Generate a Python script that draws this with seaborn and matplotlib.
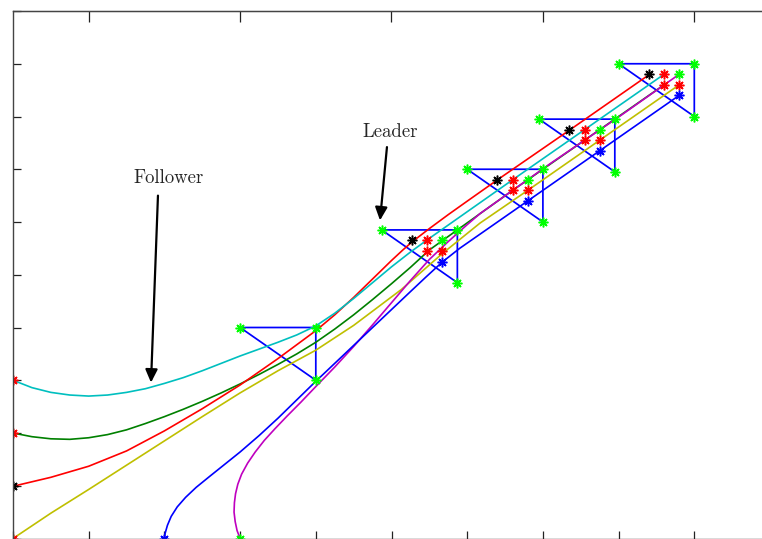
import numpy as np
import pandas as pd
import matplotlib
matplotlib.use("Agg")
import matplotlib.pyplot as plt
import seaborn as sns

# ---------------- data (axis units, one tick = 1) ----------------
red_x = [0.0, 0.5, 1.0, 1.5, 2.0, 2.5, 3.0, 3.5, 4.0, 4.25, 4.5, 4.75, 5.0, 5.15, 5.27, 5.4, 5.5, 5.75, 6.0, 6.4, 7.36, 8.4]
red_y = [0.99, 1.16, 1.37, 1.66, 2.04, 2.46, 2.91, 3.41, 3.94, 4.24, 4.57, 4.92, 5.27, 5.47, 5.62, 5.765, 5.875, 6.14, 6.395, 6.80, 7.75, 8.79]

cyan_x = [0.0, 0.25, 0.5, 0.75, 1.0, 1.25, 1.5, 1.75, 2.0, 2.25, 2.5, 2.75, 3.0, 3.25, 3.5, 3.75, 4.0,
          4.25, 4.5, 4.75, 5.0, 5.25, 5.47, 6.6, 7.55, 8.6]
cyan_y = [3.0, 2.86, 2.77, 2.72, 2.70, 2.72, 2.77, 2.84, 2.94, 3.05, 3.18, 3.32, 3.46, 3.59, 3.72, 3.86, 4.03,
          4.27, 4.55, 4.85, 5.15, 5.43, 5.66, 6.80, 7.75, 8.80]

green_x = [0.0, 0.25, 0.5, 0.75, 1.0, 1.25, 1.5, 1.75, 2.0, 2.25, 2.5, 2.75, 3.0, 3.25, 3.5, 3.75, 4.0,
           4.25, 4.5, 4.75, 5.0, 5.25, 5.5, 5.87, 6.6, 7.55, 8.6]
green_y = [2.0, 1.93, 1.89, 1.88, 1.91, 1.97, 2.06, 2.18, 2.31, 2.45, 2.60, 2.76, 2.93, 3.11, 3.30, 3.50, 3.72,
           3.97, 4.24, 4.53, 4.83, 5.14, 5.47, 5.85, 6.60, 7.55, 8.60]

yel_x = [0.0, 0.5, 1.0, 1.5, 2.0, 2.5, 3.0, 3.5, 4.0, 4.5, 5.13, 5.67, 6.17, 6.8, 7.75, 8.8]
yel_y = [0.0, 0.48, 0.93, 1.39, 1.85, 2.31, 2.76, 3.18, 3.57, 4.04, 4.72, 5.40, 5.98, 6.60, 7.55, 8.60]

blue_x = [2.0, 2.01, 2.04, 2.09, 2.17, 2.28, 2.42, 2.6, 2.8, 3.0, 3.25, 3.5, 3.75, 4.0, 4.25, 4.5, 4.75,
          5.0, 5.25, 5.45, 5.67, 5.9, 6.8, 7.75, 8.8]
blue_y = [0.0, 0.10, 0.25, 0.42, 0.60, 0.78, 0.97, 1.18, 1.41, 1.64, 1.95, 2.28, 2.63, 2.98, 3.32, 3.66, 4.00,
          4.34, 4.68, 4.95, 5.24, 5.50, 6.40, 7.35, 8.40]

mag_x = [3.0, 2.96, 2.935, 2.92, 2.925, 2.94, 2.97, 3.02, 3.1, 3.2, 3.32, 3.46, 3.62, 3.8, 4.0, 4.25, 4.5,
         4.75, 5.0, 5.25, 5.5, 5.75, 6.0, 6.17, 7.09, 8.02, 8.8]
mag_y = [0.0, 0.15, 0.32, 0.50, 0.68, 0.85, 1.03, 1.22, 1.43, 1.64, 1.86, 2.08, 2.32, 2.58, 2.88, 3.25, 3.64,
         4.05, 4.47, 4.89, 5.29, 5.63, 5.95, 6.16, 7.10, 8.01, 8.80]

agents = ["red", "cyan", "green", "yellow", "blue", "magenta"]
line_colors = {"red": "#ff0000", "cyan": "#00bfbf", "green": "#008000",
               "yellow": "#bfbf00", "blue": "#0000ff", "magenta": "#bf00bf"}
agent_marker_colors = {"red": "black", "cyan": "#ff0000", "green": "#ff0000",
                       "yellow": "#ff0000", "blue": "#0000ff", "magenta": "#00ff00"}
trajectories = {"red": (red_x, red_y), "cyan": (cyan_x, cyan_y), "green": (green_x, green_y),
                "yellow": (yel_x, yel_y), "blue": (blue_x, blue_y), "magenta": (mag_x, mag_y)}

# formation (leader) positions and triangle shape
form_x = [3.0, 4.87, 6.0, 6.95, 8.0]
form_y = [4.0, 5.85, 7.0, 7.95, 9.0]
tri_dx = [0, 1, 1, 0]
tri_dy = [0, 0, -1, 0]
# agents inside formations (shown for formations 2..5)
slot_dx = [0.4, 0.6, 0.8, 0.6, 0.8, 0.8]
slot_dy = [-0.2, -0.2, -0.2, -0.4, -0.4, -0.6]
slot_colors = ["black", "#ff0000", "#00ff00", "#ff0000", "#ff0000", "#0000ff"]

# ---------------- figure ----------------
sns.set_style("white")
fig = plt.figure(figsize=(7.62, 5.39), dpi=100)
ax = fig.add_axes([13 / 762, 0.5 / 539, 757 / 762, 527.5 / 539])

star = (8, 2, 0)

# formation triangles
tri_rows = []
for k, (fx, fy) in enumerate(zip(form_x, form_y)):
    for i, (dx, dy) in enumerate(zip(tri_dx, tri_dy)):
        tri_rows.append({"form": k, "order": i, "x": fx + dx, "y": fy + dy})
tri_df = pd.DataFrame(tri_rows)
sns.lineplot(data=tri_df, x="x", y="y", units="form", estimator=None, sort=False,
             color="#0000ff", lw=1.25, ax=ax, legend=False)

# trajectories
rows = []
for a in agents:
    xs, ys = trajectories[a]
    for i, (x, y) in enumerate(zip(xs, ys)):
        rows.append({"agent": a, "order": i, "x": x, "y": y})
traj_df = pd.DataFrame(rows)
sns.lineplot(data=traj_df, x="x", y="y", hue="agent",
             hue_order=["green", "red", "cyan", "yellow", "magenta", "blue"],
             palette=line_colors, estimator=None, sort=False, lw=1.2, ax=ax, legend=False)

# vertex markers
for fx, fy in zip(form_x, form_y):
    vx = [fx + d for d in tri_dx[:3]]
    vy = [fy + d for d in tri_dy[:3]]
    ax.plot(vx, vy, ls="none", marker=star, ms=7, mew=1.1, color="#00ff00")

# agents inside formations 2..5
for fx, fy in zip(form_x[1:], form_y[1:]):
    for dx, dy, c in zip(slot_dx, slot_dy, slot_colors):
        ax.plot([fx + dx], [fy + dy], ls="none", marker=star, ms=7, mew=1.1, color=c)

# starting positions
for a in agents:
    xs, ys = trajectories[a]
    ax.plot([xs[0]], [ys[0]], ls="none", marker=star, ms=7, mew=1.1, color=agent_marker_colors[a])

# annotations
arrow_kw = dict(arrowstyle="-|>,head_length=0.6,head_width=0.28", lw=1.6, color="black",
                shrinkA=0, shrinkB=0, mutation_scale=13)
ax.annotate("", xy=(1.823, 2.955), xytext=(1.915, 6.50), arrowprops=arrow_kw)
ax.annotate("", xy=(4.848, 6.03), xytext=(4.94, 7.42), arrowprops=arrow_kw)
ax.text(2.06, 6.84, "Follower", family="cmr10", fontsize=13.5, ha="center", va="center")
ax.text(4.98, 7.71, "Leader", family="cmr10", fontsize=13.5, ha="center", va="center")

# axes styling
ax.set_xlim(0, 10)
ax.set_ylim(0, 10)
ax.set_xlabel("")
ax.set_ylabel("")
ax.set_xticks(np.arange(0, 11, 1))
ax.set_yticks(np.arange(0, 11, 1))
ax.set_xticklabels([])
ax.set_yticklabels([])
ax.tick_params(axis="both", which="major", direction="in", length=6, width=0.9,
               colors="#222222", bottom=True, left=True, top=False, right=False)
for s in ax.spines.values():
    s.set_color("#444444")
    s.set_linewidth(1.0)

sec_top = ax.secondary_xaxis("top")
sec_top.set_xticks([1, 3, 5, 7, 9])
sec_top.set_xticklabels([])
sec_top.tick_params(direction="in", length=8, width=0.9, colors="#222222")
sec_right = ax.secondary_yaxis("right")
sec_right.set_yticks([1, 3, 5, 7, 9])
sec_right.set_yticklabels([])
sec_right.tick_params(direction="in", length=6, width=0.9, colors="#222222")

fig.savefig("out.png", dpi=100)
